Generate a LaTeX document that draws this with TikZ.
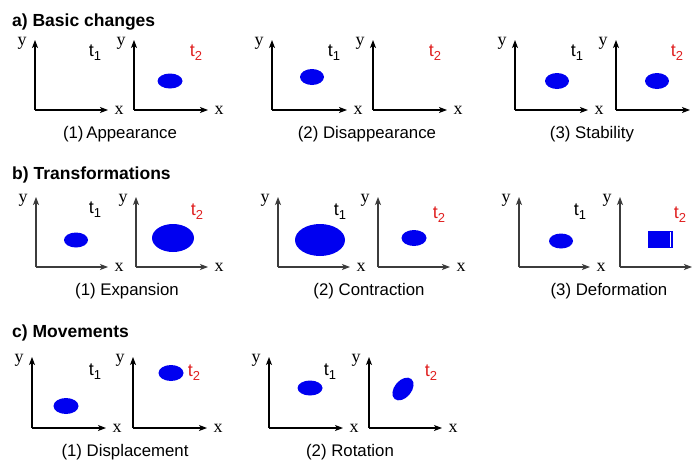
\documentclass[tikz,border=0pt]{standalone}
\usepackage{fontspec}
\setmainfont{Liberation Sans}
\newfontfamily\axserif{Liberation Serif}
\usetikzlibrary{arrows.meta}
\definecolor{tred}{RGB}{224,32,32}
\definecolor{blobblue}{RGB}{0,0,240}
\definecolor{axgray}{RGB}{60,60,60}
\newcommand\tsub[1]{t\raisebox{-0.45ex}{\fontsize{13}{13}\selectfont #1}}
% name, ox, oy, top, xend, show x label (1/0), color
\newcommand\myaxes[7]{%
  \coordinate (#1o) at (#2,#3);
  \coordinate (#1t) at (#2,#4);
  \coordinate (#1r) at (#5,#3);
  \draw[axisline,#7] (#1o) -- (#1t);
  \draw[axisline,#7] (#1o) -- (#1r);
  \node[axlab,anchor=base] (#1y) at ([xshift=-13pt,yshift=-5pt]#1t) {y};
  \ifnum#6=1 \node[axlab,anchor=base] (#1x) at ([xshift=11pt,yshift=-4pt]#1r) {x};\fi
}
\tikzset{
  axisline/.style={line width=1.1pt,-{Stealth[length=8pt,width=6pt,inset=2pt]}},
  axlab/.style={font=\axserif\fontsize{18}{18}\selectfont,inner sep=0pt},
  tlab/.style={font=\fontsize{18}{18}\selectfont,inner sep=0pt},
  tone/.style={tlab,text=black},
  ttwo/.style={tlab,text=tred},
  caption/.style={font=\fontsize{16.8}{16.8}\selectfont,inner sep=0pt,anchor=base},
  title/.style={font=\bfseries\fontsize{17.5}{17.5}\selectfont,inner sep=0pt,anchor=base west},
  blob/.style={fill=blobblue},
}
\begin{document}
\begin{tikzpicture}[x=1pt,y=-1pt]
\useasboundingbox[fill=white] (0,0) rectangle (696,463);
% ---------- a) ----------
\node[title] (ta) at (12,27) {a) Basic changes};
\myaxes{A1}{35}{110}{40}{108}{1}{black}
\myaxes{A2}{134}{110}{40}{208}{1}{black}
\node[tone] (A1t) at (95,53) {\tsub{1}};
\node[ttwo] (A2t) at (196,53) {\tsub{2}};
\fill[blob] (170,81) ellipse [x radius=12.5, y radius=7.5];
\node[caption] (capA) at (120,138) {(1)\,Appearance};

\myaxes{B1}{272}{110}{40}{347}{1}{black}
\myaxes{B2}{373}{110}{40}{447}{1}{black}
\node[tone] (B1t) at (334,53) {\tsub{1}};
\node[ttwo] (B2t) at (435,53) {\tsub{2}};
\fill[blob] (312,77) ellipse [x radius=12, y radius=8];
\node[caption] (capB) at (367,138) {(2) Disappearance};

\myaxes{C1}{515}{110}{40}{588}{1}{black}
\myaxes{C2}{616}{110}{40}{690}{0}{black}
\node[tone] (C1t) at (577,53) {\tsub{1}};
\node[ttwo] (C2t) at (677,53) {\tsub{2}};
\fill[blob] (557,81) ellipse [x radius=12, y radius=8];
\fill[blob] (657,81) ellipse [x radius=12, y radius=8];
\node[caption] (capC) at (592,138) {(3) Stability};

% ---------- b) ----------
\node[title] (tb) at (12,179) {b) Transformations};
\myaxes{D1}{36}{267}{197}{108}{1}{axgray}
\myaxes{D2}{136}{267}{197}{208}{1}{axgray}
\node[tone] (D1t) at (95,210) {\tsub{1}};
\node[ttwo] (D2t) at (197,212) {\tsub{2}};
\fill[blob] (76,240) ellipse [x radius=12, y radius=7.5];
\fill[blob] (173,238) ellipse [x radius=21, y radius=14];
\node[caption] (capD) at (127,295) {(1) Expansion};

\myaxes{E1}{278}{267}{197}{350}{1}{axgray}
\myaxes{E2}{378}{267}{197}{450}{1}{axgray}
\node[tone] (E1t) at (340,212) {\tsub{1}};
\node[ttwo] (E2t) at (439,215) {\tsub{2}};
\fill[blob] (320,240) ellipse [x radius=25, y radius=16];
\fill[blob] (414,238) ellipse [x radius=12.5, y radius=8];
\node[caption] (capE) at (369,295) {(2) Contraction};

\myaxes{F1}{519}{267}{197}{590}{1}{axgray}
\myaxes{F2}{620}{267}{197}{692}{0}{axgray}
\node[tone] (F1t) at (580,212) {\tsub{1}};
\node[ttwo] (F2t) at (680,215) {\tsub{2}};
\fill[blob] (561,241) ellipse [x radius=12, y radius=7.5];
\fill[blob] (648,231) rectangle (673,248);
\draw[white,line width=0.7pt] (670.5,232) -- (670.5,247);
\node[caption] (capF) at (609,295) {(3) Deformation};

% ---------- c) ----------
\node[title] (tc) at (12,337) {c) Movements};
\myaxes{G1}{32}{428}{357}{106}{1}{black}
\myaxes{G2}{133}{428}{357}{207}{1}{black}
\node[tone] (G1t) at (95,372) {\tsub{1}};
\node[ttwo] (G2t) at (194,373) {\tsub{2}};
\fill[blob] (66,406) ellipse [x radius=12.5, y radius=8];
\fill[blob] (171,373) ellipse [x radius=12.5, y radius=8];
\node[caption] (capG) at (125,456) {(1) Displacement};

\myaxes{H1}{269}{428}{357}{343}{1}{black}
\myaxes{H2}{369}{428}{357}{442}{1}{black}
\node[tone] (H1t) at (330,372) {\tsub{1}};
\node[ttwo] (H2t) at (431,373) {\tsub{2}};
\fill[blob] (310,388) ellipse [x radius=12.5, y radius=7.5];
\fill[blob, rotate around={50:(403,389)}] (403,389) ellipse [x radius=13, y radius=8.5];
\node[caption] (capH) at (350,456) {(2) Rotation};
\end{tikzpicture}
\end{document}
